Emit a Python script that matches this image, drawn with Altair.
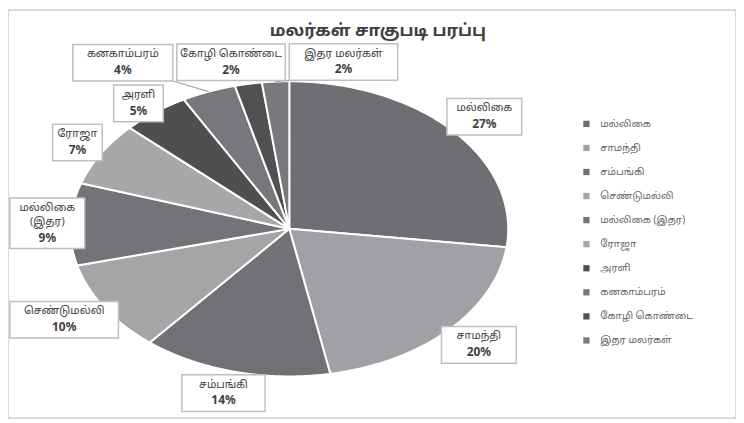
import math
import numpy as np
import pandas as pd
import altair as alt

# ---------------- data ----------------
title_text = "மலர்கள் சாகுபடி பரப்பு"
categories = ["மல்லிகை", "சாமந்தி", "சம்பங்கி", "செண்டுமல்லி", "மல்லிகை (இதர)",
              "ரோஜா", "அரளி", "கனகாம்பரம்", "கோழி கொண்டை", "இதர மலர்கள்"]
label_names = ["மல்லிகை", "சாமந்தி", "சம்பங்கி", "செண்டுமல்லி", "மல்லிகை\n(இதர)",
               "ரோஜா", "அரளி", "கனகாம்பரம்", "கோழி கொண்டை", "இதர மலர்கள்"]
percents = [27, 20, 14, 10, 9, 7, 5, 4, 2, 2]
colors = ["#6e6f73", "#a0a1a4", "#707175", "#a4a5a7", "#737477",
          "#a6a7a9", "#4e4f51", "#77787b", "#505153", "#78797c"]

# ---------------- layout (pixels) ----------------
W, H = 735, 412          # view = whole framed chart
CX, CY = 284, 221        # pie centre inside the view
RX, RY = 221, 149        # pie radii (the pie is drawn stretched)
FONT = "Noto Sans, Noto Sans Tamil, Lato, sans-serif"
LH = 14                  # label line height

xscale = alt.Scale(domain=[-CX, W - CX], nice=False, zero=False)
yscale = alt.Scale(domain=[-(H - CY), CY], nice=False, zero=False)
color_scale = alt.Scale(domain=categories, range=colors)

# ---------------- pie slices ----------------
pie_df = pd.DataFrame({"cat": categories, "value": percents, "k": list(range(len(categories)))})
N = 160
pie = (
    alt.Chart(pie_df)
    .transform_window(cum="sum(value)", sort=[alt.SortField("k")], frame=[None, 0])
    .transform_joinaggregate(total="sum(value)")
    .transform_calculate(a0="2*PI*(datum.cum - datum.value)/datum.total")
    .transform_calculate(a1="2*PI*datum.cum/datum.total")
    .transform_calculate(idx=f"sequence(0, {N + 3})")
    .transform_flatten(["idx"])
    .transform_calculate(t=f"(clamp(datum.idx, 1, {N + 1}) - 1)/{N}")
    .transform_calculate(r=f"(datum.idx == 0 || datum.idx == {N + 2}) ? 0 : 1")
    .transform_calculate(ang="datum.a0 + datum.t*(datum.a1 - datum.a0)")
    .transform_calculate(px=f"datum.r*{RX}*sin(datum.ang)")
    .transform_calculate(py=f"datum.r*{RY}*cos(datum.ang)")
    .mark_line(filled=True, stroke="white", strokeWidth=2, strokeJoin="round")
    .encode(
        x=alt.X("px:Q", scale=xscale, axis=None),
        y=alt.Y("py:Q", scale=yscale, axis=None),
        color=alt.Color(
            "cat:N", scale=color_scale, sort=categories,
            legend=alt.Legend(
                title=None, orient="none", legendX=579, legendY=110,
                direction="vertical", symbolType="square", symbolSize=40,
                symbolStrokeWidth=0, labelFontSize=10, labelColor="#666666",
                labelFont=FONT, rowPadding=14.3, labelOffset=9, labelLimit=200,
            ),
        ),
        detail="cat:N",
        order="idx:Q",
    )
)

# ---------------- data labels (computed from values) ----------------
total = float(sum(percents))
cum = np.cumsum(percents)
n = len(categories)
mids = [2 * math.pi * (cum[i] - percents[i] / 2) / total for i in range(n)]
lines = [s.split("\n") for s in label_names]
bw = np.array([max(8.5 * max(len(l) for l in ls) + 16, 50) for ls in lines])
bh = np.array([LH * len(ls) + 15 + 8 for ls in lines])

pos = np.zeros((n, 2))
for i, m in enumerate(mids):
    s, c = math.sin(m), math.cos(m)
    pos[i, 0] = RX * s + 0.55 * bw[i] * s
    pos[i, 1] = RY * c + 0.6 * bh[i] * c

xmin, xmax = -CX + 2, 290
ymin, ymax = -(H - CY) + 2, CY - 34
gap = 4


def clamp_all():
    for i in range(n):
        pos[i, 0] = min(max(pos[i, 0], xmin + bw[i] / 2), xmax - bw[i] / 2)
        pos[i, 1] = min(max(pos[i, 1], ymin + bh[i] / 2), ymax - bh[i] / 2)


clamp_all()
for _ in range(400):
    moved = False
    for i in range(n):
        for j in range(i + 1, n):
            dx = pos[j, 0] - pos[i, 0]
            dy = pos[j, 1] - pos[i, 1]
            ox = (bw[i] + bw[j]) / 2 + gap - abs(dx)
            oy = (bh[i] + bh[j]) / 2 + gap - abs(dy)
            if ox > 0 and oy > 0:
                topzone = (abs(math.cos(mids[i])) + abs(math.cos(mids[j]))) / 2 > 0.9
                if topzone or ox < oy:
                    sgn = 1 if dx >= 0 else -1
                    pos[i, 0] -= sgn * ox / 2
                    pos[j, 0] += sgn * ox / 2
                else:
                    sgn = 1 if dy >= 0 else -1
                    pos[i, 1] -= sgn * oy / 2
                    pos[j, 1] += sgn * oy / 2
                moved = True
    clamp_all()
    if not moved:
        break

rows = []
for i, m in enumerate(mids):
    cx, cy = pos[i]
    ex, ey = RX * math.sin(m), RY * math.cos(m)
    qx = min(max(ex, cx - bw[i] / 2), cx + bw[i] / 2)
    qy = min(max(ey, cy - bh[i] / 2), cy + bh[i] / 2)
    rows.append({
        "cat": categories[i],
        "name": label_names[i],
        "pct": f"{percents[i]}%",
        "x1": cx - bw[i] / 2, "x2": cx + bw[i] / 2,
        "y1": cy - bh[i] / 2, "y2": cy + bh[i] / 2,
        "cx": cx,
        "name_y": cy + bh[i] / 2 - 4,
        "pct_y": cy - bh[i] / 2 + 4,
        "ex": ex, "ey": ey, "qx": qx, "qy": qy,
        "lead": math.hypot(ex - qx, ey - qy) > 6,
    })
lab = pd.DataFrame(rows)

X = lambda f: alt.X(f, scale=xscale, axis=None)
Y = lambda f: alt.Y(f, scale=yscale, axis=None)

leaders = (
    alt.Chart(lab[lab["lead"]])
    .mark_rule(color="#a6a6a6", strokeWidth=1.2)
    .encode(x=X("ex:Q"), y=Y("ey:Q"), x2="qx:Q", y2="qy:Q")
)
boxes = (
    alt.Chart(lab)
    .mark_rect(fill="white", stroke="#bfbfbf", strokeWidth=1.5)
    .encode(x=X("x1:Q"), x2="x2:Q", y=Y("y1:Q"), y2="y2:Q")
)
names = (
    alt.Chart(lab)
    .mark_text(font=FONT, fontSize=11, color="#404040", baseline="top",
               align="center", lineBreak="\n", lineHeight=LH)
    .encode(x=X("cx:Q"), y=Y("name_y:Q"), text="name:N")
)
pcts = (
    alt.Chart(lab)
    .mark_text(font=FONT, fontSize=12, fontWeight="bold", color="#404040",
               baseline="bottom", align="center")
    .encode(x=X("cx:Q"), y=Y("pct_y:Q"), text="pct:N")
)

chart = (
    alt.layer(pie, leaders, boxes, names, pcts)
    .properties(
        width=W, height=H,
        title=alt.TitleParams(title_text, anchor="middle", offset=-30, dx=6,
                              fontSize=17, fontWeight="bold", color="#404040", font=FONT),
        autosize=alt.AutoSizeParams(type="none"),
        padding=0,
    )
    .configure_view(stroke="#d9d9d9", strokeWidth=2)
)

chart.save("out.html", embed_options={"renderer": "svg", "actions": False})
